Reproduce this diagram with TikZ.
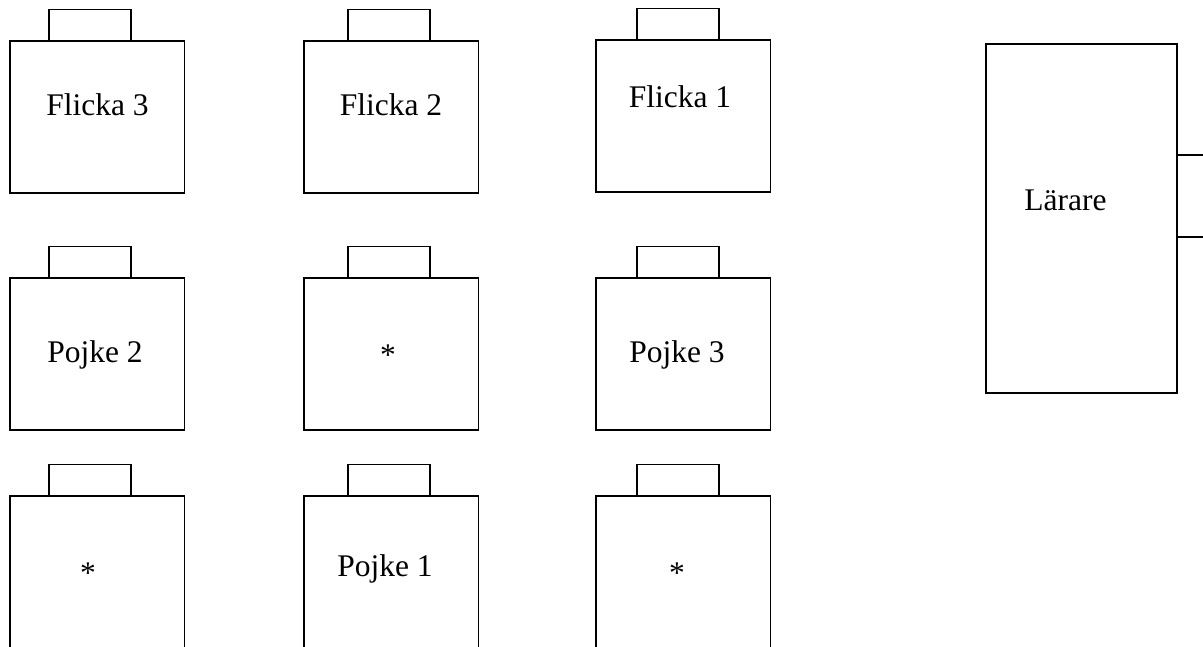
\documentclass[tikz,border=0pt]{standalone}
\usepackage{fontspec}
\setmainfont{Liberation Serif}
\begin{document}
\begin{tikzpicture}[x=1pt, y=-1pt, line width=1.9pt,
  desk/.style={draw, rectangle, inner sep=0pt, outer sep=0pt, minimum width=174.5pt, minimum height=152pt, anchor=north west},
  chair/.style={draw, rectangle, inner sep=0pt, outer sep=0pt, minimum width=82pt, minimum height=31.5pt, anchor=south west},
  seat/.style={font=\fontsize{31.5}{36}\selectfont, inner sep=0pt, anchor=base}]
  \useasboundingbox (0,0) rectangle (1203,646);
  \clip (0,0) rectangle (1203,646);
  % front row
  \node[desk] (F3) at (10,41) {};
  \node[desk] (F2) at (304,41) {};
  \node[desk] (F1) at (596,40) {};
  \node[chair] (cF3) at (49,41) {};
  \node[chair] (cF2) at (348,41) {};
  \node[chair] (cF1) at (637,40) {};
  \node[seat] (tF3) at (97.5,115) {Flicka 3};
  \node[seat] (tF2) at (391,115) {Flicka 2};
  \node[seat] (tF1) at (680,107) {Flicka 1};
  % middle row
  \node[desk] (P2) at (10,278) {};
  \node[desk] (M2) at (304,278) {};
  \node[desk] (P3) at (596,278) {};
  \node[chair] (cP2) at (49,278) {};
  \node[chair] (cM2) at (348,278) {};
  \node[chair] (cP3) at (637,278) {};
  \node[seat] (tP2) at (95,362) {Pojke 2};
  \node[seat] (tM2) at (388,365) {*};
  \node[seat] (tP3) at (677,362) {Pojke 3};
  % back row
  \node[desk] (B1) at (10,496) {};
  \node[desk] (P1) at (304,496) {};
  \node[desk] (B3) at (596,496) {};
  \node[chair] (cB1) at (49,496) {};
  \node[chair] (cP1) at (348,496) {};
  \node[chair] (cB3) at (637,496) {};
  \node[seat] (tB1) at (88,583) {*};
  \node[seat] (tP1) at (385,576) {Pojke 1};
  \node[seat] (tB3) at (677,583) {*};
  % teacher
  \node[desk, minimum width=191pt, minimum height=349pt] (T) at (986,44) {};
  \node[draw, rectangle, inner sep=0pt, outer sep=0pt, minimum width=60pt, minimum height=82pt, anchor=west] (cT) at (1177,196) {};
  \node[seat] (tT) at (1065.5,210) {Lärare};
\end{tikzpicture}
\end{document}
